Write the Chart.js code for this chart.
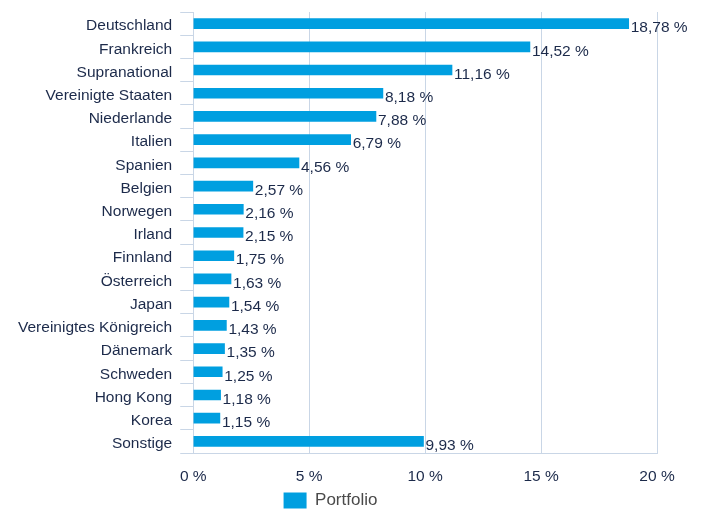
<!DOCTYPE html>
<html>
<head>
<meta charset="utf-8">
<script src="https://cdn.jsdelivr.net/npm/chart.js@4/dist/chart.umd.min.js"></script>
<style>
    body { margin: 0; background: #fff; }
    #wrap { width: 701px; height: 509px; }
</style>
</head>
<body>
<div id="wrap"><canvas id="countryChart" width="701" height="509"></canvas></div>
<script>
// Länderaufteilung Portfolio (in %)
const countries = [
    'Deutschland', 'Frankreich', 'Supranational', 'Vereinigte Staaten', 'Niederlande',
    'Italien', 'Spanien', 'Belgien', 'Norwegen', 'Irland', 'Finnland', 'Österreich',
    'Japan', 'Vereinigtes Königreich', 'Dänemark', 'Schweden', 'Hong Kong', 'Korea', 'Sonstige'
];
const portfolio = [
    18.78, 14.52, 11.16, 8.18, 7.88,
    6.79, 4.56, 2.57, 2.16, 2.15, 1.75, 1.63,
    1.54, 1.43, 1.35, 1.25, 1.18, 1.15, 9.93
];
const xTicks = [0, 5, 10, 15, 20];
const seriesName = 'Portfolio';

const FONT = '"Liberation Sans", Arial, Helvetica, sans-serif';
const TEXT = '#1c2a4a';
const GRID = '#c9d6e6';
const BAR = '#009fe0';

const fmt = v => v.toFixed(2).replace('.', ',') + ' %';

// value labels to the right of each bar
const valueLabels = {
    id: 'valueLabels',
    afterDatasetsDraw(chart) {
        const ctx = chart.ctx;
        const meta = chart.getDatasetMeta(0);
        ctx.save();
        ctx.font = '15.5px ' + FONT;
        ctx.fillStyle = TEXT;
        ctx.textAlign = 'left';
        ctx.textBaseline = 'middle';
        meta.data.forEach((bar, i) => {
            ctx.fillText(fmt(portfolio[i]), bar.x + 2, bar.y + 4.5);
        });
        ctx.restore();
    }
};

// legend sits a bit left of centre in the original
const legendShift = {
    id: 'legendShift',
    afterLayout(chart) {
        chart.legend.left -= 3;
        chart.legend.right -= 3;
    }
};

function initChart() {
    const ctx = document.getElementById('countryChart');

    new Chart(ctx, {
        type: 'bar',
        data: {
            labels: countries,
            datasets: [{
                label: seriesName,
                data: portfolio,
                backgroundColor: BAR,
                borderWidth: 0,
                barThickness: 10
            }]
        },
        options: {
            indexAxis: 'y',
            responsive: false,
            devicePixelRatio: 1,
            animation: false,
            layout: { padding: { top: 12, left: 10, right: 44, bottom: -10 } },
            plugins: {
                tooltip: { enabled: false },
                legend: {
                    position: 'bottom',
                    labels: {
                        boxWidth: 23,
                        boxHeight: 16,
                        padding: 0,
                        color: '#4a4a4a',
                        font: { family: FONT, size: 17 }
                    }
                }
            },
            scales: {
                x: {
                    min: 0,
                    max: 20,
                    afterBuildTicks: axis => { axis.ticks = xTicks.map(v => ({ value: v })); },
                    afterFit: axis => { axis.height = 39; },
                    grid: { color: GRID, drawTicks: false, lineWidth: 1 },
                    border: { display: true, color: GRID },
                    ticks: {
                        color: TEXT,
                        padding: 14,
                        font: { family: FONT, size: 15.5 },
                        callback: v => v + ' %'
                    }
                },
                y: {
                    afterFit: axis => { axis.paddingTop = 0; axis.paddingBottom = 0; },
                    grid: {
                        color: GRID,
                        offset: true,
                        drawOnChartArea: false,
                        tickLength: 13
                    },
                    border: { display: true, color: GRID },
                    ticks: {
                        color: TEXT,
                        padding: 8,
                        labelOffset: 2.5,
                        autoSkip: false,
                        font: { family: FONT, size: 15.5 }
                    }
                }
            }
        },
        plugins: [valueLabels, legendShift]
    });
}

initChart();
</script>
</body>
</html>
